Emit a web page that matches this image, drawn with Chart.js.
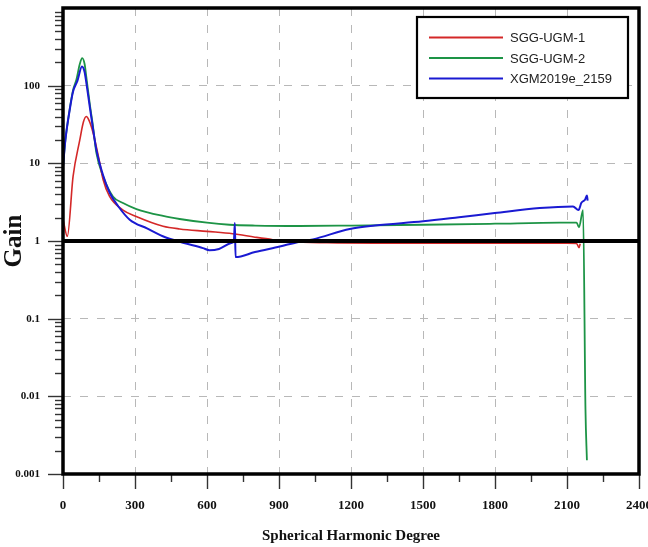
<!DOCTYPE html>
<html lang="en">
<head>
<meta charset="UTF-8">
<title>Gain</title>
<script src="https://cdn.jsdelivr.net/npm/chart.js@4.4.0/dist/chart.umd.min.js"></script>
<style>
  body { margin: 0; background: #fff; }
  canvas { display: block; }
</style>
</head>
<body>
<canvas id="gainChart" width="648" height="547"></canvas>
<script>
// gain per spherical harmonic degree for the three models
const redDeg  = [0, 18, 42, 70, 85, 97, 108, 125, 153, 167, 194, 250, 305, 417, 486, 600, 707, 800, 874, 950, 1100, 1300, 1500, 1700, 1900, 2100, 2140, 2150, 2155];
const redGain = [1.9, 1.15, 6.8, 20, 34, 40, 36, 25, 10.2, 6.2, 3.75, 2.5, 2.07, 1.55, 1.43, 1.33, 1.24, 1.12, 1.04, 0.98, 0.95, 0.94, 0.94, 0.94, 0.94, 0.94, 0.93, 0.82, 0.92];

const greenDeg  = [0, 10, 21, 42, 56, 70, 80, 90, 97, 111, 125, 139, 167, 208, 250, 306, 417, 486, 600, 694, 800, 986, 1200, 1500, 1800, 2070, 2140, 2150, 2167, 2177, 2183];
const greenGain = [9.1, 20, 36, 88, 120, 190, 226, 190, 131, 60, 30, 13.6, 6.8, 3.75, 3.08, 2.58, 2.1, 1.92, 1.72, 1.62, 1.58, 1.56, 1.58, 1.62, 1.67, 1.72, 1.72, 1.5, 2.5, 0.0067, 0.0015];

const blueDeg  = [0, 10, 28, 42, 60, 79, 90, 97, 111, 125, 139, 167, 195, 230, 278, 350, 416, 500, 583, 610, 650, 701, 712, 716, 719, 800, 903, 986, 1041, 1195, 1300, 1500, 1650, 1799, 1986, 2125, 2148, 2160, 2175, 2183, 2186];
const blueGain = [9, 20, 49, 84, 115, 177, 150, 110, 55, 28, 15, 7, 4.15, 2.8, 1.88, 1.45, 1.15, 0.95, 0.81, 0.76, 0.79, 0.94, 1.0, 1.7, 0.62, 0.72, 0.85, 0.98, 1.05, 1.43, 1.58, 1.79, 2.02, 2.29, 2.66, 2.79, 2.5, 3.1, 3.4, 3.85, 3.3];

const xTicks = [0, 300, 600, 900, 1200, 1500, 1800, 2100, 2400];
const yTicks = [0.001, 0.01, 0.1, 1, 10, 100, 1000];

const seriesNames = ['SGG-UGM-1', 'SGG-UGM-2', 'XGM2019e_2159'];
const seriesColors = ['#d42828', '#1d9446', '#1a1ad2'];

const toPoints = (xs, ys) => xs.map((x, i) => ({ x: x, y: ys[i] }));

const serif = '"Liberation Serif", "Times New Roman", serif';

// frame, y=1 reference line, outer tick marks and boxed legend
const decorations = {
  id: 'decorations',
  afterDatasetsDraw(chart) {
    const ctx = chart.ctx;
    const a = chart.chartArea;
    const xs = chart.scales.x;
    const ys = chart.scales.y;
    ctx.save();

    // minor / major ticks on the y axis (outside, to the left)
    ctx.strokeStyle = '#333';
    ctx.lineWidth = 1.4;
    for (let d = 0.001; d < 999; d *= 10) {
      for (let m = 1; m <= 9; m++) {
        const py = Math.round(ys.getPixelForValue(d * m)) + 0.5;
        const len = m === 1 ? 15 : 8;
        ctx.beginPath();
        ctx.moveTo(a.left - len, py);
        ctx.lineTo(a.left, py);
        ctx.stroke();
      }
    }
    // ticks on the x axis (below)
    for (let v = 0; v <= 2400; v += 150) {
      const px = Math.round(xs.getPixelForValue(v)) + 0.5;
      const len = v % 300 === 0 ? 15 : 8;
      ctx.beginPath();
      ctx.moveTo(px, a.bottom);
      ctx.lineTo(px, a.bottom + len);
      ctx.stroke();
    }

    // thick line at gain = 1
    const y1 = ys.getPixelForValue(1);
    ctx.strokeStyle = '#000';
    ctx.lineWidth = 4;
    ctx.beginPath();
    ctx.moveTo(a.left, y1);
    ctx.lineTo(a.right, y1);
    ctx.stroke();

    // plot frame
    ctx.lineWidth = 3.5;
    ctx.strokeRect(a.left, a.top, a.right - a.left, a.bottom - a.top);

    // legend box
    const bx = 417, by = 17, bw = 211, bh = 81;
    ctx.fillStyle = '#fff';
    ctx.fillRect(bx, by, bw, bh);
    ctx.lineWidth = 2.2;
    ctx.strokeStyle = '#000';
    ctx.strokeRect(bx, by, bw, bh);
    ctx.font = '13px "Liberation Sans", Arial, sans-serif';
    ctx.textBaseline = 'middle';
    ctx.textAlign = 'left';
    seriesNames.forEach((name, i) => {
      const ly = 37.5 + i * 20.5;
      ctx.strokeStyle = seriesColors[i];
      ctx.lineWidth = 1.8;
      ctx.beginPath();
      ctx.moveTo(429, ly);
      ctx.lineTo(503, ly);
      ctx.stroke();
      ctx.fillStyle = '#222';
      ctx.fillText(name, 510, ly + 1);
    });
    ctx.restore();
  }
};

const ctx = document.getElementById('gainChart').getContext('2d');

new Chart(ctx, {
  type: 'line',
  data: {
    datasets: [
      { label: seriesNames[0], data: toPoints(redDeg, redGain), borderColor: seriesColors[0], borderWidth: 1.6, order: 1 },
      { label: seriesNames[1], data: toPoints(greenDeg, greenGain), borderColor: seriesColors[1], borderWidth: 1.8, order: 2 },
      { label: seriesNames[2], data: toPoints(blueDeg, blueGain), borderColor: seriesColors[2], borderWidth: 2, order: 0 }
    ]
  },
  options: {
    responsive: false,
    animation: false,
    parsing: false,
    layout: { padding: { top: 8, right: 9, left: 0, bottom: 0 } },
    elements: {
      point: { radius: 0 },
      line: { cubicInterpolationMode: 'monotone', fill: false }
    },
    plugins: {
      legend: { display: false },
      tooltip: { enabled: false }
    },
    scales: {
      x: {
        type: 'linear',
        min: 0,
        max: 2400,
        afterBuildTicks: s => { s.ticks = xTicks.map(v => ({ value: v })); },
        afterFit: s => { s.height = 73; s.paddingLeft = 0; s.paddingRight = 0; },
        ticks: {
          color: '#111',
          padding: 24,
          maxRotation: 0,
          font: { family: serif, size: 13, weight: 'bold' },
          callback: v => String(v)
        },
        grid: { color: '#b8b8b8', lineWidth: 1, drawTicks: false },
        border: { display: false, dash: [8, 9] },
        title: {
          display: true,
          text: 'Spherical Harmonic Degree',
          color: '#111',
          font: { family: serif, size: 15, weight: 'bold' },
          padding: { top: 0, bottom: 2 }
        }
      },
      y: {
        type: 'logarithmic',
        min: 0.001,
        max: 1000,
        afterBuildTicks: s => { s.ticks = yTicks.map(v => ({ value: v })); },
        afterFit: s => { s.width = 63; s.paddingTop = 0; s.paddingBottom = 0; },
        ticks: {
          color: '#111',
          padding: 23,
          font: { family: serif, size: 11, weight: 'bold' },
          callback: v => (v === 1000 ? '' : String(v))
        },
        grid: { color: '#b8b8b8', lineWidth: 1, drawTicks: false },
        border: { display: false, dash: [8, 9] },
        title: {
          display: true,
          text: 'Gain',
          color: '#111',
          font: { family: serif, size: 25, weight: 'bold' },
          padding: { top: 0, bottom: 0 }
        }
      }
    }
  },
  plugins: [decorations]
});
</script>
</body>
</html>
